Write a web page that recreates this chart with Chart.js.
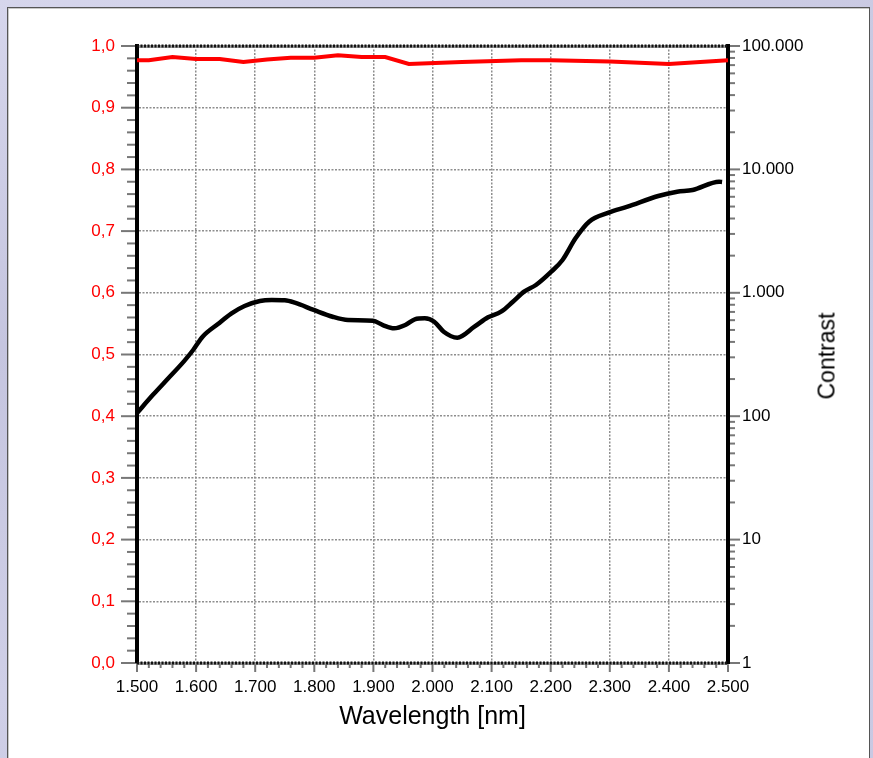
<!DOCTYPE html>
<html><head><meta charset="utf-8">
<script src="https://cdn.jsdelivr.net/npm/chart.js@4.4.1/dist/chart.umd.min.js"></script>
<style>
html,body{margin:0;padding:0;width:873px;height:758px;overflow:hidden;}
body{background:linear-gradient(165deg,#d6d6ec 0%,#c5c5df 35%,#cfcfe7 70%,#c8c8e2 100%);position:relative;font-family:"Liberation Sans",Arial,sans-serif;}
#panel{position:absolute;left:7px;top:7px;width:861px;height:790px;background:#fff;border:1px solid #555;box-shadow:inset 1px 1px 0 #c8c8c8;}
#c{position:absolute;left:0;top:0;}
#ytitle{position:absolute;left:827px;top:356px;transform:translate(-50%,-50%) rotate(-90deg);font-size:23px;white-space:nowrap;color:#000;font-family:"Liberation Sans",Arial,sans-serif;}
</style></head><body>
<div id="panel"></div>
<canvas id="c" width="873" height="758"></canvas>
<div id="ytitle">Contrast</div>
<script>
// ---- data ----
const wavelengthT = [1500,1520,1560,1600,1640,1680,1720,1760,1800,1840,1880,1920,1960,2050,2150,2200,2300,2400,2500];
const transmission = [0.977,0.977,0.982,0.979,0.979,0.974,0.978,0.981,0.981,0.985,0.982,0.982,0.971,0.974,0.977,0.977,0.975,0.971,0.977];

const wavelengthC = [1500,1527,1553,1579,1595,1611,1637,1660,1682,1708,1728,1750,1767,1799,1831,1857,1899,1916,1935,1954,1970,1987,2003,2019,2042,2071,2094,2116,2136,2155,2175,2201,2220,2242,2265,2298,2330,2382,2414,2440,2485,2490];
const contrast = [106,149,203,277,344,441,559,682,782,859,874,869,831,726,640,602,594,548,515,548,610,621,583,484,433,531,633,703,847,1021,1156,1483,1844,2765,3770,4460,4990,6090,6590,6810,7950,7900];

const xMajorTicks = [1500,1600,1700,1800,1900,2000,2100,2200,2300,2400,2500];
const xTickLabels = ['1.500','1.600','1.700','1.800','1.900','2.000','2.100','2.200','2.300','2.400','2.500'];
const leftMajorTicks = [0,0.1,0.2,0.3,0.4,0.5,0.6,0.7,0.8,0.9,1.0];
const leftTickLabels = ['0,0','0,1','0,2','0,3','0,4','0,5','0,6','0,7','0,8','0,9','1,0'];
const rightMajorTicks = [1,10,100,1000,10000,100000];
const rightTickLabels = ['1','10','100','1.000','10.000','100.000'];

// ---- helpers ----
const FONT = "'Liberation Sans', Arial, sans-serif";
const GRID = '#8e8e8e';
const PLOT = {left:137, top:46, right:728, bottom:663, W:873, H:758};
const xMinor = []; for (let v = 1500; v <= 2500; v += 20) xMinor.push(v);
const yMinor = []; for (let i = 0; i <= 50; i++) yMinor.push(Math.round(i*2)/100);
const logTicks = []; for (let e = 0; e < 5; e++) for (let m = 1; m <= 9; m++) logTicks.push(m*Math.pow(10,e)); logTicks.push(100000);
const isXMajor = v => xMajorTicks.includes(Math.round(v));
const isYMajor = v => Math.round(v*100) % 10 === 0;
const isRMajor = v => rightMajorTicks.some(m => Math.abs(m - v) < 1e-6*m);

const frameTicks = {
  id:'frameTicks',
  afterDraw(chart){
    const {ctx, chartArea:a, scales} = chart;
    ctx.save();
    ctx.strokeStyle = '#777'; ctx.lineWidth = 2; ctx.setLineDash([]);
    scales.y.ticks.forEach(t => {
      const p = scales.y.getPixelForValue(t.value);
      ctx.beginPath(); ctx.moveTo(a.left - (isYMajor(t.value)?16:10), p); ctx.lineTo(a.left - 2, p); ctx.stroke();
    });
    scales.y2.ticks.forEach(t => {
      const p = scales.y2.getPixelForValue(t.value);
      ctx.beginPath(); ctx.moveTo(a.right + 2, p); ctx.lineTo(a.right + (isRMajor(t.value)?12:7), p); ctx.stroke();
    });
    scales.x.ticks.forEach(t => {
      const p = scales.x.getPixelForValue(t.value);
      ctx.beginPath(); ctx.moveTo(p, a.bottom + 1.5); ctx.lineTo(p, a.bottom + (isXMajor(t.value)?9:5)); ctx.stroke();
    });
    // hatched top and bottom frame
    ctx.strokeStyle = '#111'; ctx.lineWidth = 3; ctx.setLineDash([2,1.5]);
    [a.top, a.bottom].forEach(yy => { ctx.beginPath(); ctx.moveTo(a.left, yy); ctx.lineTo(a.right, yy); ctx.stroke(); });
    ctx.restore();
  }
};

new Chart(document.getElementById('c'), {
  type:'line',
  data:{
    datasets:[
      {label:'Transmission', data: wavelengthT.map((x,i)=>({x, y: transmission[i]})), yAxisID:'y', xAxisID:'x',
       borderColor:'#ff0000', borderWidth:4, pointRadius:0, tension:0, order:1},
      {label:'Contrast', data: wavelengthC.map((x,i)=>({x, y: contrast[i]})), yAxisID:'y2', xAxisID:'x',
       borderColor:'#000000', borderWidth:4.5, pointRadius:0, cubicInterpolationMode:'monotone', order:0}
    ]
  },
  options:{
    responsive:false, animation:false, devicePixelRatio:1,
    layout:{padding:0},
    plugins:{legend:{display:false}, tooltip:{enabled:false}},
    scales:{
      x:{type:'linear', position:'bottom', min:1500, max:2500,
        afterBuildTicks: s => { s.ticks = xMinor.map(v => ({value:v})); },
        afterFit: s => { s.height = PLOT.H - PLOT.bottom; },
        ticks:{autoSkip:false, maxRotation:0, padding:4, color:'#000', font:{family:FONT, size:17},
          callback: v => { const i = xMajorTicks.indexOf(Math.round(v)); return i >= 0 ? xTickLabels[i] : ''; }},
        grid:{drawTicks:true, tickLength:10, tickColor:'transparent', lineWidth:1.5,
          color: c => (c.tick && isXMajor(c.tick.value) && c.tick.value > 1500 && c.tick.value < 2500) ? GRID : 'transparent'},
        border:{display:true, color:'#999', width:3, dash:[2,1.5]},
        title:{display:true, text:'Wavelength [nm]', color:'#000', font:{family:FONT, size:25}, padding:{top:0, bottom:26}}
      },
      x2:{type:'linear', position:'top', min:1500, max:2500,
        afterFit: s => { s.height = PLOT.top; },
        ticks:{display:false}, grid:{drawOnChartArea:false, drawTicks:false},
        border:{display:true, color:'#999', width:3}
      },
      y:{type:'linear', position:'left', min:0, max:1,
        afterBuildTicks: s => { s.ticks = yMinor.map(v => ({value:v})); },
        afterFit: s => { s.width = PLOT.left; },
        ticks:{autoSkip:false, padding:6, color:'#ff0000', font:{family:FONT, size:17},
          callback: v => { const i = leftMajorTicks.findIndex(m => Math.abs(m - v) < 1e-6); return i >= 0 ? leftTickLabels[i] : ''; }},
        grid:{drawTicks:true, tickLength:16, tickColor:'transparent', lineWidth:1.5,
          color: c => (c.tick && isYMajor(c.tick.value) && c.tick.value > 0.001 && c.tick.value < 0.999) ? GRID : 'transparent'},
        border:{display:true, color:'#000', width:4, dash:[2,1.5]}
      },
      y2:{type:'logarithmic', position:'right', min:1, max:100000,
        afterBuildTicks: s => { s.ticks = logTicks.map(v => ({value:v})); },
        afterFit: s => { s.width = PLOT.W - PLOT.right; },
        ticks:{autoSkip:false, padding:2, color:'#000', font:{family:FONT, size:17},
          callback: v => { const i = rightMajorTicks.findIndex(m => Math.abs(m - v) < 1e-6*m); return i >= 0 ? rightTickLabels[i] : ''; }},
        grid:{drawOnChartArea:false, drawTicks:true, tickLength:12, tickColor:'transparent'},
        border:{display:true, color:'#000', width:4}
      }
    }
  },
  plugins:[frameTicks]
});
</script>
</body></html>
